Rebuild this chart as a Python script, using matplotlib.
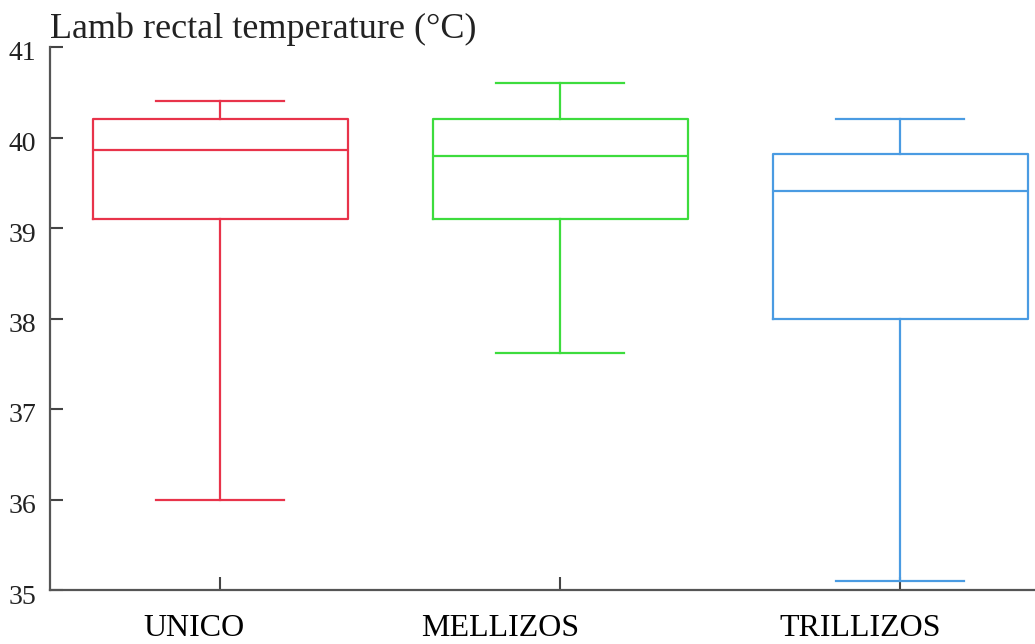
import matplotlib
matplotlib.use("Agg")
import matplotlib.pyplot as plt
from matplotlib.transforms import ScaledTranslation

# Lamb rectal temperature by litter type (box-plot summary statistics, °C)
groups = ["UNICO", "MELLIZOS", "TRILLIZOS"]
whisker_low = [36.0, 37.62, 35.1]
q1 = [39.1, 39.1, 38.0]
median = [39.86, 39.8, 39.41]
q3 = [40.2, 40.2, 39.82]
whisker_high = [40.4, 40.6, 40.2]
colors = ["#e8334a", "#3ddc3d", "#4a9be2"]
yticks = [35, 36, 37, 38, 39, 40, 41]

# horizontal nudges (pixels) for the category labels
label_shift_px = [-26, -60, -40]

plt.rcParams["font.family"] = ["Liberation Serif", "DejaVu Serif"]

fig = plt.figure(figsize=(10.35, 6.44), dpi=100)
ax = fig.add_axes([50 / 1035, 1 - 590 / 644, 1020 / 1035, 543 / 644])

stats = [
    dict(whislo=lo, q1=a, med=m, q3=b, whishi=hi, label=g)
    for g, lo, a, m, b, hi in zip(groups, whisker_low, q1, median, q3, whisker_high)
]
positions = list(range(1, len(groups) + 1))
art = ax.bxp(stats, positions=positions, widths=0.75, capwidths=0.375,
             showfliers=False, patch_artist=False, manage_ticks=False)

for i, c in enumerate(colors):
    art["boxes"][i].set(color=c, linewidth=1.6)
    art["medians"][i].set(color=c, linewidth=1.6)
    for j in (2 * i, 2 * i + 1):
        art["whiskers"][j].set(color=c, linewidth=1.6)
        art["caps"][j].set(color=c, linewidth=1.6)

ax.set_xlim(0.5, 3.5)
ax.set_ylim(35, 41)
ax.set_yticks(yticks)
ax.set_xticks(positions)
ax.set_xticklabels(groups)

for side in ("top", "right"):
    ax.spines[side].set_visible(False)
for side in ("left", "bottom"):
    ax.spines[side].set_color("#555555")
    ax.spines[side].set_linewidth(1.6)

ax.tick_params(axis="both", direction="in", length=9.5, width=1.5, color="#444444")
ax.tick_params(axis="y", pad=10, labelsize=20, labelcolor="#222222")
ax.tick_params(axis="x", pad=17.5, labelsize=23, labelcolor="#000000")

for lab in ax.get_yticklabels():
    lab.set_transform(lab.get_transform() + ScaledTranslation(0, -4 / 100, fig.dpi_scale_trans))
for lab, dx in zip(ax.get_xticklabels(), label_shift_px):
    lab.set_transform(lab.get_transform() + ScaledTranslation(dx / 100, 0, fig.dpi_scale_trans))

fig.text(50 / 1035, 1 - 38 / 644, "Lamb rectal temperature (°C)",
         fontsize=26, color="#222222", ha="left", va="baseline")

fig.savefig("out.png", dpi=100)
